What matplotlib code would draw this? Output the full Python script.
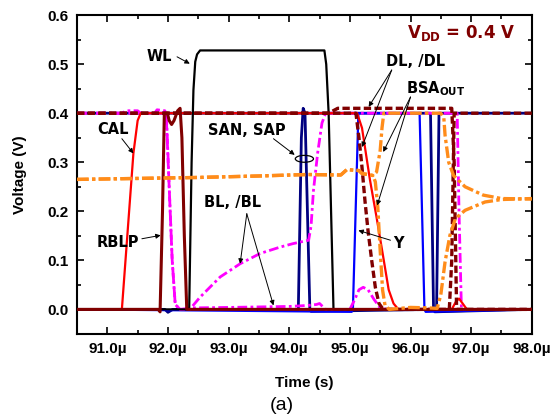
import numpy as np
import matplotlib
matplotlib.use('Agg')
import matplotlib.pyplot as plt
from matplotlib.patches import Ellipse

# waveforms, time in us, voltage in V
wl_t = [90.5, 92.35, 92.39, 92.42, 92.45, 92.48, 92.53, 94.58, 94.61, 94.65, 94.73, 98.0]
wl_v = [0.0, 0.0, 0.30, 0.447, 0.505, 0.52, 0.528, 0.528, 0.50, 0.40, 0.0, 0.0]

cal_t = [90.5, 91.24, 91.43, 91.5, 91.55, 95.12, 95.2, 95.33, 95.44, 95.55, 95.64, 95.72, 95.8,
         96.68, 96.75, 96.8, 96.86, 96.93, 98.0]
cal_v = [0.0, 0.0, 0.318, 0.385, 0.4, 0.4, 0.37, 0.265, 0.188, 0.107, 0.04, 0.012, 0.0,
         0.0, 0.016, 0.022, 0.012, 0.0, 0.0]

rblp_t = [90.5, 91.84, 91.87, 91.91, 91.94, 91.99, 92.02, 92.06, 92.1, 92.16, 92.2, 92.23, 92.27, 92.31, 98.0]
rblp_v = [0.0, 0.0, -0.005, 0.2, 0.4, 0.4, 0.385, 0.377, 0.385, 0.405, 0.41, 0.35, 0.15, 0.0, 0.0]

bl_t = [90.5, 91.25, 91.3, 91.5, 91.55, 91.78, 91.82, 91.95, 91.98, 92.02, 92.07, 92.12, 92.2,
        92.36, 92.53, 92.86, 93.19, 93.52, 93.85, 94.06, 94.32, 94.36, 94.4, 94.47, 94.54, 94.6,
        96.77, 96.8, 96.84, 98.0]
bl_v = [0.4, 0.4, 0.405, 0.405, 0.4, 0.4, 0.407, 0.405, 0.38, 0.25, 0.1, 0.01, 0.0,
        0.0, 0.025, 0.066, 0.093, 0.114, 0.127, 0.134, 0.141, 0.17, 0.243, 0.32, 0.38, 0.4,
        0.4, 0.2, 0.0, 0.0]

blb_t = [90.5, 91.97, 92.02, 92.07, 92.12, 92.2, 92.4, 93.0, 94.0, 94.3, 94.45, 94.5, 94.6,
         95.0, 95.08, 95.15, 95.22, 95.3, 95.4, 95.5, 95.6, 98.0]
blb_v = [0.4, 0.4, 0.25, 0.1, 0.01, 0.0, 0.003, 0.004, 0.006, 0.008, 0.01, 0.012, 0.0,
         0.0, 0.02, 0.04, 0.045, 0.04, 0.02, 0.003, 0.0, 0.0]

sa1_t = [90.5, 91.95, 92.0, 92.08, 94.15, 94.2, 94.23, 94.26, 96.33, 96.38, 96.4, 98.0]
sa1_v = [0.0, 0.0, -0.006, 0.0, 0.0, 0.35, 0.41, 0.4, 0.4, 0.0, -0.005, 0.0]
sa2_t = [90.5, 94.26, 94.34, 94.36, 96.43, 96.47, 98.0]
sa2_v = [0.4, 0.4, 0.0, -0.004, 0.0, 0.4, 0.4]

y_t = [90.5, 95.03, 95.05, 95.14, 96.15, 96.23, 96.25, 98.0]
y_v = [0.0, -0.005, 0.0, 0.4, 0.4, 0.0, -0.005, 0.0]

dl_t = [90.5, 95.1, 95.15, 95.2, 95.25, 95.3, 95.36, 95.42, 95.48, 95.55, 96.64, 96.68, 96.72, 98.0]
dl_v = [0.4, 0.4, 0.35, 0.29, 0.22, 0.16, 0.1, 0.045, 0.012, 0.0, 0.0, 0.1, 0.4, 0.4]
dlb_t = [90.5, 94.65, 94.8, 96.68, 96.72, 96.76, 98.0]
dlb_v = [0.4, 0.4, 0.41, 0.41, 0.3, 0.0, 0.0]

bsa1_t = [90.5, 91.5, 92.5, 93.5, 94.3, 94.85, 94.95, 95.15, 95.2, 95.38, 95.44, 95.5, 95.53, 95.56,
          96.5, 96.55, 96.57, 96.63, 96.71, 96.9, 97.2, 97.5, 98.0]
bsa1_v = [0.265, 0.267, 0.269, 0.272, 0.275, 0.274, 0.285, 0.283, 0.277, 0.273, 0.28, 0.324, 0.37, 0.4,
          0.4, 0.39, 0.355, 0.3, 0.273, 0.25, 0.233, 0.226, 0.225]
bsa2_t = [90.5, 91.5, 92.5, 93.5, 94.3, 94.85, 94.95, 95.15, 95.2, 95.38, 95.42, 95.46, 95.5, 95.54,
          95.58, 95.65, 96.0, 96.3, 96.44, 96.5, 96.57, 96.65, 96.74, 96.9, 97.23, 97.5, 98.0]
bsa2_v = [0.265, 0.267, 0.269, 0.272, 0.275, 0.274, 0.285, 0.283, 0.277, 0.273, 0.26, 0.209, 0.12, 0.039,
          0.008, 0.0, 0.004, 0.003, 0.002, 0.03, 0.097, 0.151, 0.185, 0.202, 0.219, 0.224, 0.226]

x_ticks = [91, 92, 93, 94, 95, 96, 97, 98]
x_labels = ['91.0\u00b5', '92.0\u00b5', '93.0\u00b5', '94.0\u00b5', '95.0\u00b5', '96.0\u00b5', '97.0\u00b5', '98.0\u00b5']
y_ticks = [0.0, 0.1, 0.2, 0.3, 0.4, 0.5, 0.6]
y_labels = ['0.0', '0.1', '0.2', '0.3', '0.4', '0.5', '0.6']

maroon = '#800000'
navy = '#000080'
orange = '#ff8c1a'
magenta = '#ff00ff'

fig = plt.figure(figsize=(5.58, 4.2), dpi=100)
ax = fig.add_axes([0.138, 0.205, 0.815, 0.759])

ax.plot(sa1_t, sa1_v, color=navy, lw=2.0, zorder=2)
ax.plot(sa2_t, sa2_v, color=navy, lw=2.0, zorder=2)
ax.plot(y_t, y_v, color='#0000ff', lw=1.6, zorder=2)
ax.plot(bl_t, bl_v, color=magenta, lw=2.0, dashes=(3.5, 1.2, 1, 1.2), zorder=3)
ax.plot(blb_t, blb_v, color=magenta, lw=2.0, dashes=(3.5, 1.2, 1, 1.2), zorder=3)
ax.plot(cal_t, cal_v, color='#ff0000', lw=1.6, zorder=4)
ax.plot(wl_t, wl_v, color='black', lw=1.6, zorder=4)
ax.plot(rblp_t, rblp_v, color=maroon, lw=2.2, zorder=5)
ax.plot(dl_t, dl_v, color=maroon, lw=2.4, dashes=(2.2, 1.0), zorder=6)
ax.plot(dlb_t, dlb_v, color=maroon, lw=2.4, dashes=(2.2, 1.0), zorder=6)
ax.plot(bsa1_t, bsa1_v, color=orange, lw=2.4, dashes=(3.5, 1, 1, 1), zorder=7)
ax.plot(bsa2_t, bsa2_v, color=orange, lw=2.4, dashes=(3.5, 1, 1, 1), zorder=7)

ax.set_xlim(90.5, 98.0)
ax.set_ylim(-0.05, 0.6)
ax.set_xticks(x_ticks)
ax.set_xticklabels(x_labels)
ax.set_yticks(y_ticks)
ax.set_yticklabels(y_labels)
ax.set_xticks(np.arange(90.5, 98.01, 0.5), minor=True)
ax.set_yticks(np.arange(-0.05, 0.601, 0.05), minor=True)
ax.tick_params(which='both', direction='in', top=True, right=True, width=1.2)
ax.tick_params(which='major', length=5, labelsize=11, pad=6)
ax.tick_params(which='minor', length=3)
for lab in ax.get_xticklabels() + ax.get_yticklabels():
    lab.set_fontfamily('Liberation Sans')
    lab.set_fontweight('bold')
for s in ax.spines.values():
    s.set_linewidth(1.5)

ax.set_xlabel('Time (s)', fontfamily='Liberation Sans', fontweight='bold', fontsize=11, labelpad=14)
ax.set_ylabel('Voltage (V)', fontfamily='Liberation Sans', fontweight='bold', fontsize=11, labelpad=15)

lab = dict(fontsize=10.5, fontweight='bold', ha='center', va='center', zorder=10)
arw = dict(arrowstyle='-|>', color='black', lw=0.7, mutation_scale=7, shrinkA=0, shrinkB=0)


def arrow(tail, tip):
    ax.annotate('', xy=tip, xytext=tail, arrowprops=arw, zorder=10)


ax.text(91.85, 0.516, 'WL', **lab)
arrow((92.15, 0.515), (92.36, 0.501))
ax.text(91.09, 0.367, 'CAL', **lab)
arrow((91.24, 0.348), (91.43, 0.318))
ax.text(91.18, 0.137, 'RBLP', **lab)
arrow((91.57, 0.144), (91.88, 0.151))
ax.text(93.3, 0.365, 'SAN, SAP', **lab)
arrow((93.74, 0.348), (94.09, 0.315))
ax.add_patch(Ellipse((94.25, 0.307), 0.3, 0.014, fill=False, edgecolor='black', lw=0.9, zorder=10))
ax.text(93.07, 0.217, 'BL, /BL', **lab)
arrow((93.3, 0.195), (93.19, 0.093))
arrow((93.3, 0.195), (93.74, 0.008))
ax.text(96.09, 0.506, 'DL, /DL', **lab)
arrow((95.69, 0.488), (95.31, 0.413))
arrow((95.69, 0.488), (95.2, 0.331))
ax.text(96.41, 0.451, r'BSA$_{\mathbf{OUT}}$', **lab)
arrow((96.0, 0.433), (95.55, 0.321))
arrow((96.0, 0.433), (95.45, 0.212))
ax.text(95.8, 0.135, 'Y', **lab)
arrow((95.67, 0.141), (95.14, 0.161))
ax.text(97.73, 0.563, r'V$_{\mathbf{DD}}$ = 0.4 V', fontsize=12, fontweight='bold',
        color=maroon, ha='right', va='center', zorder=10)

fig.text(0.505, 0.035, '(a)', fontsize=14, ha='center', va='center',
         family=['Liberation Sans Narrow', 'Liberation Sans'])

fig.savefig('out.png', dpi=100)
